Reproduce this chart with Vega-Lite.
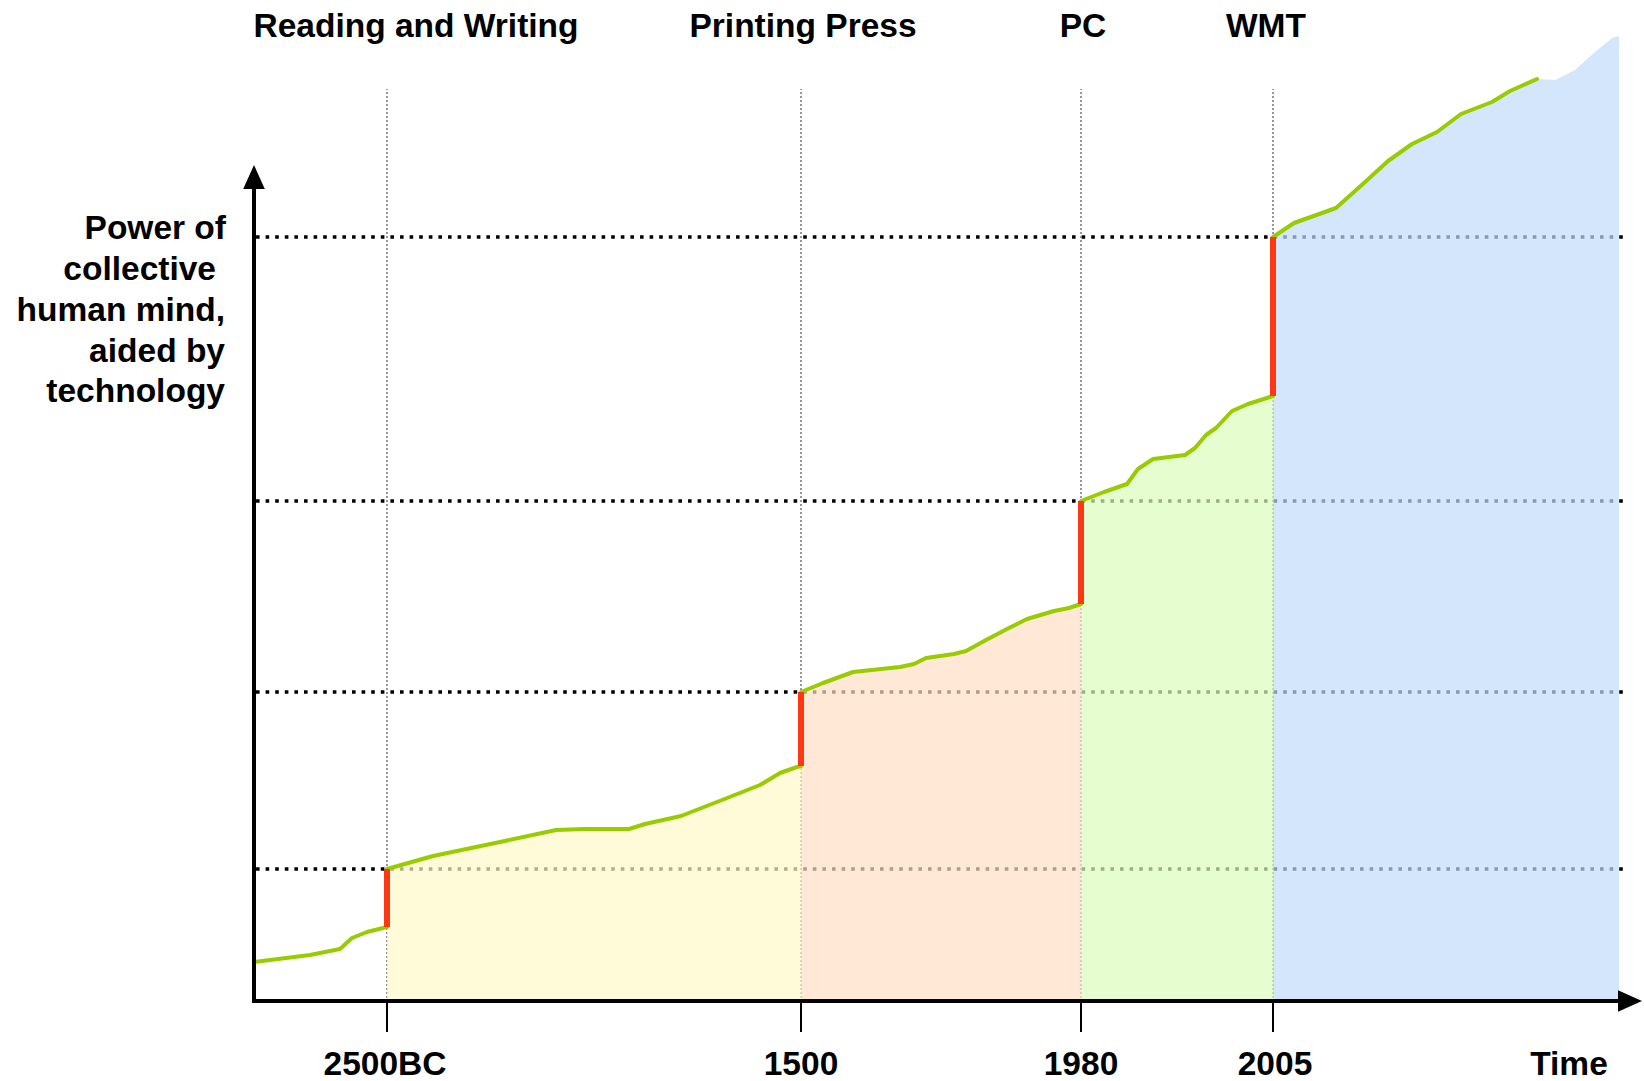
{
  "$schema": "https://vega.github.io/schema/vega-lite/v6.json",
  "width": 1390,
  "height": 1002,
  "autosize": {"type": "none"},
  "padding": {"left": 254, "top": 0, "right": 0, "bottom": 79},
  "background": "white",
  "config": {"view": {"stroke": null}},
  "datasets": {
    "curve": [
      {"x": 0, "y": 40, "seg": "pre", "tail": 0},
      {"x": 56, "y": 47, "seg": "pre", "tail": 0},
      {"x": 86, "y": 53, "seg": "pre", "tail": 0},
      {"x": 98, "y": 64, "seg": "pre", "tail": 0},
      {"x": 113, "y": 70, "seg": "pre", "tail": 0},
      {"x": 133, "y": 75, "seg": "pre", "tail": 0},
      {"x": 133, "y": 133, "seg": "rw", "tail": 0},
      {"x": 179, "y": 146, "seg": "rw", "tail": 0},
      {"x": 246, "y": 160, "seg": "rw", "tail": 0},
      {"x": 302, "y": 172, "seg": "rw", "tail": 0},
      {"x": 330, "y": 173, "seg": "rw", "tail": 0},
      {"x": 375, "y": 173, "seg": "rw", "tail": 0},
      {"x": 391, "y": 178, "seg": "rw", "tail": 0},
      {"x": 427, "y": 186, "seg": "rw", "tail": 0},
      {"x": 468, "y": 202, "seg": "rw", "tail": 0},
      {"x": 506, "y": 217, "seg": "rw", "tail": 0},
      {"x": 526, "y": 229, "seg": "rw", "tail": 0},
      {"x": 543, "y": 235, "seg": "rw", "tail": 0},
      {"x": 547, "y": 236, "seg": "rw", "tail": 0},
      {"x": 547, "y": 310, "seg": "pp", "tail": 0},
      {"x": 569, "y": 319, "seg": "pp", "tail": 0},
      {"x": 599, "y": 330, "seg": "pp", "tail": 0},
      {"x": 646, "y": 335, "seg": "pp", "tail": 0},
      {"x": 660, "y": 338, "seg": "pp", "tail": 0},
      {"x": 672, "y": 344, "seg": "pp", "tail": 0},
      {"x": 700, "y": 348, "seg": "pp", "tail": 0},
      {"x": 712, "y": 351, "seg": "pp", "tail": 0},
      {"x": 732, "y": 362, "seg": "pp", "tail": 0},
      {"x": 753, "y": 373, "seg": "pp", "tail": 0},
      {"x": 773, "y": 383, "seg": "pp", "tail": 0},
      {"x": 800, "y": 391, "seg": "pp", "tail": 0},
      {"x": 815, "y": 394, "seg": "pp", "tail": 0},
      {"x": 827, "y": 398, "seg": "pp", "tail": 0},
      {"x": 827, "y": 501, "seg": "pc", "tail": 0},
      {"x": 850, "y": 510, "seg": "pc", "tail": 0},
      {"x": 873, "y": 518, "seg": "pc", "tail": 0},
      {"x": 884, "y": 533, "seg": "pc", "tail": 0},
      {"x": 899, "y": 543, "seg": "pc", "tail": 0},
      {"x": 931, "y": 547, "seg": "pc", "tail": 0},
      {"x": 941, "y": 554, "seg": "pc", "tail": 0},
      {"x": 952, "y": 567, "seg": "pc", "tail": 0},
      {"x": 962, "y": 574, "seg": "pc", "tail": 0},
      {"x": 978, "y": 591, "seg": "pc", "tail": 0},
      {"x": 994, "y": 598, "seg": "pc", "tail": 0},
      {"x": 1019, "y": 606, "seg": "pc", "tail": 0},
      {"x": 1019, "y": 765, "seg": "wmt", "tail": 0},
      {"x": 1040, "y": 779, "seg": "wmt", "tail": 0},
      {"x": 1082, "y": 794, "seg": "wmt", "tail": 0},
      {"x": 1110, "y": 819, "seg": "wmt", "tail": 0},
      {"x": 1134, "y": 841, "seg": "wmt", "tail": 0},
      {"x": 1158, "y": 858, "seg": "wmt", "tail": 0},
      {"x": 1183, "y": 870, "seg": "wmt", "tail": 0},
      {"x": 1207, "y": 888, "seg": "wmt", "tail": 0},
      {"x": 1238, "y": 900, "seg": "wmt", "tail": 0},
      {"x": 1256, "y": 911, "seg": "wmt", "tail": 0},
      {"x": 1283, "y": 923, "seg": "wmt", "tail": 0},
      {"x": 1301, "y": 922, "seg": "wmt", "tail": 1},
      {"x": 1321, "y": 932, "seg": "wmt", "tail": 1},
      {"x": 1341, "y": 950, "seg": "wmt", "tail": 1},
      {"x": 1358, "y": 964, "seg": "wmt", "tail": 1},
      {"x": 1365, "y": 966, "seg": "wmt", "tail": 1}
    ],
    "jumps": [
      {"x": 133, "y": 75, "y2": 133},
      {"x": 547, "y": 236, "y2": 310},
      {"x": 827, "y": 398, "y2": 501},
      {"x": 1019, "y": 606, "y2": 765}
    ],
    "levels": [{"y": 133}, {"y": 310}, {"y": 501}, {"y": 765}],
    "events": [
      {"x": 133, "top": "Reading and Writing", "topx": 162, "tick": "2500BC", "tickx": 131},
      {"x": 547, "top": "Printing Press", "topx": 549, "tick": "1500", "tickx": 547},
      {"x": 827, "top": "PC", "topx": 829, "tick": "1980", "tickx": 827},
      {"x": 1019, "top": "WMT", "topx": 1012, "tick": "2005", "tickx": 1021}
    ],
    "ytitle": [
      {"line": "Power of", "x": -28, "y": 763},
      {"line": "collective", "x": -38, "y": 722},
      {"line": "human mind,", "x": -29, "y": 681},
      {"line": "aided by", "x": -29, "y": 640},
      {"line": "technology", "x": -29, "y": 600}
    ]
  },
  "layer": [
    {
      "data": {"name": "levels"},
      "mark": {"type": "rule", "color": "#000000", "strokeWidth": 3.6, "strokeDash": [3.6, 6]},
      "encoding": {
        "y": {"field": "y", "type": "quantitative", "scale": {"domain": [0, 1002], "nice": false, "zero": false}, "axis": null},
        "x": {"datum": 2, "type": "quantitative", "scale": {"domain": [0, 1390], "nice": false, "zero": false}, "axis": null},
        "x2": {"datum": 1372}
      }
    },
    {
      "data": {"name": "events"},
      "mark": {"type": "rule", "color": "#808080", "strokeWidth": 1.6, "strokeDash": [2, 2]},
      "encoding": {
        "x": {"field": "x", "type": "quantitative"},
        "y": {"datum": 0, "type": "quantitative"},
        "y2": {"datum": 913}
      }
    },
    {
      "data": {"name": "curve"},
      "transform": [{"filter": "datum.seg != 'pre'"}],
      "mark": {"type": "area", "opacity": 0.7, "interpolate": "linear"},
      "encoding": {
        "x": {"field": "x", "type": "quantitative"},
        "y": {"field": "y", "type": "quantitative"},
        "y2": {"datum": 0},
        "color": {
          "field": "seg", "type": "nominal",
          "scale": {"domain": ["rw", "pp", "pc", "wmt"], "range": ["#fff8c6", "#ffe0c4", "#dbfcba", "#c2dbfb"]},
          "legend": null
        }
      }
    },
    {
      "data": {"name": "curve"},
      "transform": [{"filter": "datum.tail == 0"}],
      "mark": {"type": "line", "color": "#99cc00", "strokeWidth": 4, "strokeJoin": "round", "strokeCap": "round"},
      "encoding": {
        "x": {"field": "x", "type": "quantitative"},
        "y": {"field": "y", "type": "quantitative"},
        "detail": {"field": "seg", "type": "nominal"}
      }
    },
    {
      "data": {"name": "jumps"},
      "mark": {"type": "rule", "color": "#ff3814", "strokeWidth": 6},
      "encoding": {
        "x": {"field": "x", "type": "quantitative"},
        "y": {"field": "y", "type": "quantitative"},
        "y2": {"field": "y2"}
      }
    },
    {
      "data": {"values": [{}]},
      "mark": {"type": "rule", "color": "#000000", "strokeWidth": 4},
      "encoding": {
        "x": {"datum": 0, "type": "quantitative"},
        "y": {"datum": -1, "type": "quantitative"},
        "y2": {"datum": 816}
      }
    },
    {
      "data": {"values": [{}]},
      "mark": {"type": "rule", "color": "#000000", "strokeWidth": 4},
      "encoding": {
        "x": {"datum": -2, "type": "quantitative"},
        "x2": {"datum": 1368},
        "y": {"datum": 1, "type": "quantitative"}
      }
    },
    {
      "data": {"name": "events"},
      "mark": {"type": "rule", "color": "#000000", "strokeWidth": 2},
      "encoding": {
        "x": {"field": "x", "type": "quantitative"},
        "y": {"datum": 1, "type": "quantitative"},
        "y2": {"datum": -30}
      }
    },
    {
      "data": {"values": [{}]},
      "mark": {"type": "point", "shape": "M0,-1L0.9,1L-0.9,1Z", "size": 576, "filled": true, "color": "#000000", "opacity": 1},
      "encoding": {
        "x": {"datum": 0, "type": "quantitative"},
        "y": {"datum": 825, "type": "quantitative"}
      }
    },
    {
      "data": {"values": [{}]},
      "mark": {"type": "point", "shape": "M1,0L-1,-0.9L-1,0.9Z", "size": 576, "filled": true, "color": "#000000", "opacity": 1},
      "encoding": {
        "x": {"datum": 1376, "type": "quantitative"},
        "y": {"datum": 1, "type": "quantitative"}
      }
    },
    {
      "data": {"name": "events"},
      "mark": {"type": "text", "font": "Liberation Sans", "fontWeight": "bold", "fontSize": 33.5, "color": "#000000", "align": "center", "baseline": "alphabetic"},
      "encoding": {
        "x": {"field": "topx", "type": "quantitative"},
        "y": {"datum": 965, "type": "quantitative"},
        "text": {"field": "top"}
      }
    },
    {
      "data": {"name": "events"},
      "mark": {"type": "text", "font": "Liberation Sans", "fontWeight": "bold", "fontSize": 33.5, "color": "#000000", "align": "center", "baseline": "alphabetic"},
      "encoding": {
        "x": {"field": "tickx", "type": "quantitative"},
        "y": {"datum": -73, "type": "quantitative"},
        "text": {"field": "tick"}
      }
    },
    {
      "data": {"values": [{"label": "Time", "x": 1315}]},
      "mark": {"type": "text", "font": "Liberation Sans", "fontWeight": "bold", "fontSize": 33.5, "color": "#000000", "align": "center", "baseline": "alphabetic"},
      "encoding": {
        "x": {"field": "x", "type": "quantitative"},
        "y": {"datum": -73, "type": "quantitative"},
        "text": {"field": "label"}
      }
    },
    {
      "data": {"name": "ytitle"},
      "mark": {"type": "text", "font": "Liberation Sans", "fontWeight": "bold", "fontSize": 33.5, "color": "#000000", "align": "right", "baseline": "alphabetic"},
      "encoding": {
        "x": {"field": "x", "type": "quantitative"},
        "y": {"field": "y", "type": "quantitative"},
        "text": {"field": "line"}
      }
    }
  ]
}
